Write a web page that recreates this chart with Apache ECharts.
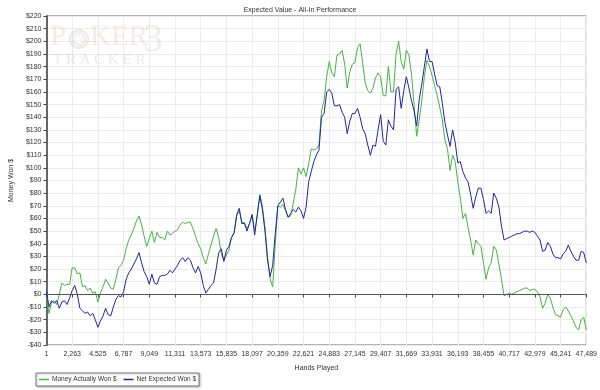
<!DOCTYPE html>
<html>
<head>
<meta charset="utf-8">
<script src="https://cdn.jsdelivr.net/npm/echarts@6/dist/echarts.min.js"></script>
<style>html,body{margin:0;padding:0;background:#fff;}#c{width:600px;height:390px;}</style>
</head>
<body>
<div id="c"></div>
<script>
const titleText = 'Expected Value - All-In Performance';
const xAxisName = 'Hands Played';
const yAxisName = 'Money Won $';
const seriesNames = ['Money Actually Won $', 'Net Expected Won $'];
const tickLabels = ['1','2,263','4,525','6,787','9,049','11,311','13,573','15,835','18,097','20,359','22,621','24,883','27,145','29,407','31,669','33,931','36,193','38,455','40,717','42,979','45,241','47,489'];
const firstHand = 1, lastHand = 47489, samplesPerTick = 10;

const moneyWon = [
-2,-15,-6,-5,-8,0,9,7,8,8,
21,21,16,17,6,7,3,5,1,2,
-6,1,6,12,9,5,4,12,21,23,
27,36,43,47,52,58,62,55,46,38,
44,50,41,49,45,45,43,50,47,48,
50,51,55,57,56,57,57,52,46,40,
36,29,24,32,39,46,52,45,32,27,
31,35,45,48,62,66,57,57,52,56,
63,50,62,79,70,53,30,12,6,40,
70,69,71,66,61,62,72,83,100,95,
100,93,103,115,114,115,118,145,153,172,
184,175,172,189,190,193,182,163,176,182,
183,195,198,183,167,161,159,163,171,175,
172,157,157,180,160,160,190,200,184,178,
193,189,174,150,125,138,153,172,185,180,
173,165,157,148,138,122,115,98,110,105,
89,76,60,64,53,43,31,43,40,38,
25,12,21,25,38,35,24,12,-1,0,
1,0,1,2,3,4,5,5,3,4,
4,2,-2,-11,-7,0,-3,-10,-16,-17,
-18,-12,-10,-13,-17,-21,-26,-28,-20,-18,
-28
];
const expectedWon = [
2,-10,-5,-7,-5,-11,-6,-5,-8,-3,
3,7,0,-11,-13,-15,-14,-17,-15,-20,
-26,-21,-17,-11,-16,-17,-10,-4,-1,-2,
2,12,17,20,24,28,33,25,18,14,
8,16,9,8,14,15,15,16,19,17,
20,23,27,29,26,29,27,21,17,22,
17,7,1,4,7,9,20,33,36,26,
35,38,45,49,63,68,56,56,50,56,
63,47,63,78,67,50,27,14,23,48,
70,73,76,67,61,64,67,65,69,66,
60,69,89,97,105,110,114,140,143,160,
162,159,149,149,150,144,140,127,137,143,
143,147,140,131,127,118,110,118,117,130,
142,121,118,138,133,130,162,164,147,161,
172,163,153,145,133,154,166,180,194,184,
184,174,165,164,151,136,126,117,130,120,
104,105,97,92,89,79,68,77,84,84,
75,64,66,64,80,76,69,54,43,44,
45,46,47,48,48,49,50,50,49,50,
49,46,43,34,35,41,38,32,29,29,
28,32,34,39,34,30,27,27,34,33,
25
];

const nSamples = moneyWon.length;
const hands = [];
for (let i = 0; i < nSamples; i++) {
  hands.push(String(Math.round(firstHand + i * (lastHand - firstHand) / (nSamples - 1))));
}

const chart = echarts.init(document.getElementById('c'), null, {renderer: 'canvas'});
const font = 'Liberation Sans, Arial, sans-serif';
const option = {
  animation: false,
  backgroundColor: '#ffffff',
  title: {
    text: titleText, left: 'center', top: 2,
    textStyle: {fontSize: 7, fontWeight: 'normal', color: '#333', fontFamily: font}
  },
  graphic: [
    {type: 'text', left: 50, top: 23, z: 1, silent: true,
     style: {text: 'P', font: '29px "Liberation Serif", serif', fill: 'rgba(215,160,160,0.22)'}},
    {type: 'circle', z: 1, silent: true, shape: {cx: 79, cy: 39, r: 9.5},
     style: {fill: 'rgba(200,200,200,0.25)', stroke: 'rgba(200,170,170,0.3)', lineWidth: 1}},
    {type: 'circle', z: 1, silent: true, shape: {cx: 79, cy: 39, r: 4},
     style: {fill: 'rgba(255,255,255,0.7)'}},
    {type: 'text', left: 90, top: 23, z: 1, silent: true,
     style: {text: 'KER', font: '29px "Liberation Serif", serif', fill: 'rgba(215,160,160,0.22)'}},
    {type: 'text', left: 143, top: 20, z: 1, silent: true,
     style: {text: '3', font: '40px "Liberation Serif", serif', fill: 'rgba(150,190,150,0.2)'}},
    {type: 'text', left: 53, top: 53, z: 1, silent: true,
     style: {text: 'T R A C K E R', font: '15px "Liberation Serif", serif', fill: 'rgba(170,170,170,0.25)'}}
  ],
  legend: {
    left: 36, top: 373, orient: 'horizontal',
    data: seriesNames,
    itemWidth: 10, itemHeight: 1.5, itemGap: 7, icon: 'rect',
    padding: [3, 3, 3, 3],
    borderColor: '#777', borderWidth: 1, borderRadius: 0,
    shadowColor: 'rgba(0,0,0,0.25)', shadowBlur: 2, shadowOffsetX: 1, shadowOffsetY: 1,
    backgroundColor: '#fff',
    textStyle: {fontSize: 6.5, color: '#333', fontFamily: font, padding: [0, 0, 0, -2]}
  },
  grid: {
    left: 36, right: 12, top: 16, bottom: 45,
    show: true, borderColor: '#666', borderWidth: 1, backgroundColor: 'transparent'
  },
  xAxis: {
    type: 'category',
    data: hands,
    boundaryGap: false,
    name: xAxisName, nameLocation: 'middle', nameGap: 20,
    nameTextStyle: {fontSize: 7, color: '#333', fontFamily: font},
    axisLine: {lineStyle: {color: '#666', width: 1}},
    axisTick: {show: true, interval: samplesPerTick - 1, length: 3, lineStyle: {color: '#444'}},
    axisLabel: {
      interval: samplesPerTick - 1, fontSize: 7, color: '#333', fontFamily: font, margin: 6,
      formatter: function (v, i) { return tickLabels[Math.round(i / samplesPerTick)]; }
    },
    splitLine: {show: true, interval: samplesPerTick - 1, lineStyle: {color: '#ebebeb', width: 1}}
  },
  yAxis: {
    type: 'value', min: -40, max: 220, interval: 10,
    name: yAxisName, nameLocation: 'middle', nameGap: 26, nameRotate: 90,
    nameTextStyle: {fontSize: 7, color: '#333', fontFamily: font},
    axisLine: {show: true, lineStyle: {color: '#666', width: 2}},
    axisTick: {show: true, length: 3, lineStyle: {color: '#444'}},
    axisLabel: {
      fontSize: 7, color: '#333', fontFamily: font, margin: 5,
      formatter: function (v) { return (v < 0 ? '-$' : '$') + Math.abs(v); }
    },
    splitLine: {show: true, lineStyle: {color: '#ebebeb', width: 1}}
  },
  series: [
    {
      name: seriesNames[0], type: 'line', data: moneyWon, showSymbol: false,
      color: '#45b245', lineStyle: {width: 1, color: '#45b245'}, z: 3,
      markLine: {
        silent: true, symbol: 'none', label: {show: false},
        lineStyle: {color: '#555', width: 1, type: 'solid'},
        data: [{yAxis: 0}]
      }
    },
    {
      name: seriesNames[1], type: 'line', data: expectedWon, showSymbol: false,
      color: '#24249c', lineStyle: {width: 1, color: '#24249c'}, z: 4
    }
  ]
};
chart.setOption(option);
</script>
</body>
</html>
